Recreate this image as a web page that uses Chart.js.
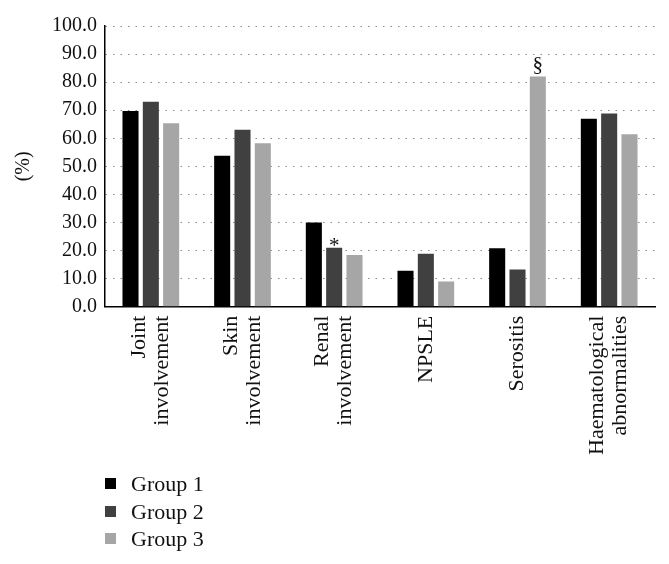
<!DOCTYPE html>
<html>
<head>
<meta charset="utf-8">
<script src="https://cdn.jsdelivr.net/npm/chart.js@4.4.0/dist/chart.umd.min.js"></script>
<style>
  html, body { margin: 0; padding: 0; background: #fff; }
  #wrap { position: relative; width: 669px; height: 564px; }
  #legend { position: absolute; left: 105px; top: 470px; font-family: "Liberation Serif", serif; font-size: 22px; color: #111; }
  #legend div { height: 27.5px; line-height: 27.5px; display: flex; align-items: center; }
  #legend span.box { display: inline-block; width: 11px; height: 11px; margin-right: 15px; }
</style>
</head>
<body>
<div id="wrap">
  <canvas id="chart" width="669" height="564"></canvas>
  <div id="legend"></div>
</div>
<script>
const categories = [
  ["Joint", "involvement"],
  ["Skin", "involvement"],
  ["Renal", "involvement"],
  "NPSLE",
  "Serositis",
  ["Haematological", "abnormalities"],
]
const group1 = [69.7, 53.8, 30.0, 12.8, 20.8, 67.0]
const group2 = [73.0, 63.0, 21.0, 18.9, 13.3, 68.8]
const group3 = [65.4, 58.2, 18.4, 9.0, 82.0, 61.4]
const seriesNames = ["Group 1", "Group 2", "Group 3"]
const colors = ["#000000", "#404040", "#a6a6a6"]
// significance marks: [dataset index, category index, symbol]
const marks = [
  [1, 2, "*"],
  [2, 4, "§"],
]

const fontFamily = "'Liberation Serif', serif"
const xFontSize = 22
const xLineHeight = 1.05

// draw the * and § above the marked bars
const markPlugin = {
  id: "marks",
  afterDatasetsDraw(chart) {
    const ctx = chart.ctx
    ctx.save()
    ctx.fillStyle = "#111"
    ctx.font = "21px " + fontFamily
    ctx.textAlign = "center"
    ctx.textBaseline = "bottom"
    marks.forEach(([ds, idx, sym]) => {
      const bar = chart.getDatasetMeta(ds).data[idx]
      ctx.fillText(sym, bar.x, bar.y + (sym === "*" ? 9 : -1))
    })
    ctx.restore()
  },
}

// center the rotated two-line labels on their category
const centerLabels = {
  id: "centerLabels",
  beforeDraw(chart) {
    const scale = chart.scales.x
    const items = scale.getLabelItems(chart.chartArea)
    items.forEach((item) => {
      if (item._centered) return
      const lines = Array.isArray(item.label) ? item.label.length : 1
      item.textOffset -= ((lines - 1) * xFontSize * xLineHeight) / 2
      item._centered = true
    })
  },
}

const data = [group1, group2, group3]

const chart = new Chart(document.getElementById("chart"), {
  type: "bar",
  data: {
    labels: categories,
    datasets: seriesNames.map((name, i) => ({
      label: name,
      data: data[i],
      backgroundColor: colors[i],
      borderWidth: 0,
      categoryPercentage: 0.665,
      barPercentage: 0.79,
    })),
  },
  options: {
    responsive: false,
    animation: false,
    layout: {
      padding: { left: 12, right: 14, top: 26, bottom: 100 },
    },
    plugins: {
      legend: { display: false },
      tooltip: { enabled: false },
    },
    scales: {
      x: {
        grid: { display: false, drawTicks: false },
        border: { color: "#000", width: 1.5 },
        ticks: {
          color: "#111",
          font: { family: fontFamily, size: xFontSize, lineHeight: xLineHeight },
          minRotation: 90,
          maxRotation: 90,
          padding: 9,
          autoSkip: false,
        },
      },
      y: {
        min: 0,
        max: 100,
        grid: { color: "#8a8a8a", lineWidth: 1, drawTicks: false },
        border: { color: "#000", width: 1.5, dash: [1.5, 6] },
        ticks: {
          stepSize: 10,
          color: "#111",
          font: { family: fontFamily, size: 20 },
          padding: 8,
          callback: (v) => Number(v).toFixed(1),
        },
        title: {
          display: true,
          text: "(%)",
          color: "#111",
          font: { family: fontFamily, size: 20 },
          padding: { top: 0, bottom: 8 },
        },
      },
    },
  },
  plugins: [markPlugin, centerLabels],
})

// legend
const legend = document.getElementById("legend")
chart.data.datasets.forEach((ds) => {
  const row = document.createElement("div")
  row.innerHTML = `<span class="box" style="background:${ds.backgroundColor}"></span>${ds.label}`
  legend.appendChild(row)
})
</script>
</body>
</html>
